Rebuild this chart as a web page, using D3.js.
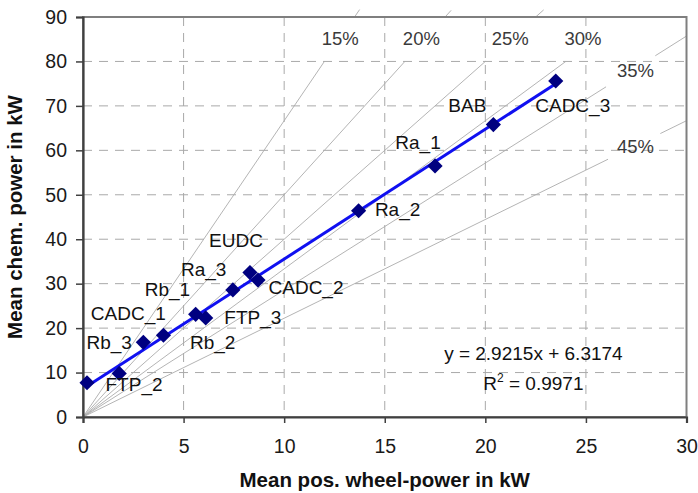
<!DOCTYPE html>
<html>
<head>
<meta charset="utf-8">
<script src="https://cdn.jsdelivr.net/npm/d3@7"></script>
<style>
  html, body { margin: 0; padding: 0; background: #fff; }
  svg text { font-family: Arial, "Liberation Sans", sans-serif; }
</style>
</head>
<body>
<svg id="chart" width="698" height="493"></svg>
<script>
// ---------------- data ----------------
const pointNames = ["FTP_2", "Rb_3", "CADC_1", "Rb_1", "Ra_3", "Rb_2", "FTP_3", "EUDC", "CADC_2", "Ra_2", "Ra_1", "BAB", "CADC_3"];
const wheelPower = [0.2, 1.8, 3.0, 4.0, 5.6, 6.1, 7.45, 8.3, 8.7, 13.7, 17.5, 20.4, 23.5];
const chemPower  = [7.7, 9.8, 16.8, 18.4, 23.1, 22.3, 28.6, 32.5, 30.8, 46.4, 56.5, 65.8, 75.6];

const trendSlope = 2.9215;
const trendIntercept = 6.3174;
const equationText = "y = 2.9215x + 6.3174";
const r2Value = "0.9971";

const efficiencies = [0.15, 0.20, 0.25, 0.30, 0.35, 0.45];
const efficiencyLabels = ["15%", "20%", "25%", "30%", "35%", "45%"];
// x-extents (kW wheel power) of the visible pieces of each efficiency line
const efficiencySegments = [
  [[0, 12], [13.5, 13.75]],
  [[0, 16], [18.0, 18.3]],
  [[0, 20], [22.5, 22.9]],
  [[0, 24]],
  [[0, 26], [28.45, 30]],
  [[0, 26.1], [28.7, 30]]
];

const xTicks = [0, 5, 10, 15, 20, 25, 30];
const yTicks = [0, 10, 20, 30, 40, 50, 60, 70, 80, 90];
const xTitle = "Mean pos. wheel-power in kW";
const yTitle = "Mean chem. power in kW";

// ---------------- layout ----------------
const svg = d3.select("#chart");
const plot = { left: 83, right: 686.5, top: 17, bottom: 417 };
const x = d3.scaleLinear().domain([0, 30]).range([plot.left, plot.right]);
const y = d3.scaleLinear().domain([0, 90]).range([plot.bottom, plot.top]);

// label placement (text anchor point) for efficiency labels, in data units
const effLabelAt = [[12.79, 83.7], [16.82, 83.7], [21.24, 83.7], [24.85, 83.7], [27.46, 76.5], [27.46, 59.4]];
// data label offsets in pixels [dx (centre), dy (baseline)] relative to marker
const labelOffsets = [[47, 8], [-10, -24], [-15, -22], [4, -39], [8, -38], [7, 31], [20, 34], [-14, -26], [48, 14], [39, 5], [-17, -17], [-26, -13], [17, 31]];
// equation anchor (data units)
const eqAt = [22.39, 12.8];
const r2At = [22.39, 6.1];

// ---------------- gridlines ----------------
const grid = svg.append("g");
grid.selectAll("line.v").data(xTicks.filter(t => t > 0 && t < 30)).join("line")
  .attr("x1", d => x(d)).attr("x2", d => x(d))
  .attr("y1", plot.top).attr("y2", plot.bottom)
  .attr("stroke", "#a9a9a9").attr("stroke-width", 1).attr("stroke-dasharray", "9,7");
grid.selectAll("line.h").data(yTicks.filter(t => t > 0 && t < 90)).join("line")
  .attr("x1", plot.left).attr("x2", plot.right)
  .attr("y1", d => y(d)).attr("y2", d => y(d))
  .attr("stroke", "#a9a9a9").attr("stroke-width", 1).attr("stroke-dasharray", "9,7");

// ---------------- efficiency lines ----------------
const effG = svg.append("g");
efficiencies.forEach((e, i) => {
  efficiencySegments[i].forEach(seg => {
    effG.append("line")
      .attr("x1", x(seg[0])).attr("y1", y(seg[0] / e))
      .attr("x2", x(seg[1])).attr("y2", y(seg[1] / e))
      .attr("stroke", "#ababab").attr("stroke-width", 0.9);
  });
  effG.append("text")
    .attr("x", x(effLabelAt[i][0])).attr("y", y(effLabelAt[i][1]))
    .attr("text-anchor", "middle")
    .attr("font-size", 18.5).attr("fill", "#3a3a3a")
    .text(efficiencyLabels[i]);
});

// ---------------- frame & axes ----------------
svg.append("rect")
  .attr("x", plot.left).attr("y", plot.top)
  .attr("width", plot.right - plot.left).attr("height", plot.bottom - plot.top)
  .attr("fill", "none").attr("stroke", "#7f7f7f").attr("stroke-width", 2);

const yAxis = svg.append("g").attr("transform", `translate(${plot.left},0)`)
  .call(d3.axisLeft(y).tickValues(yTicks).tickSize(7).tickPadding(9));
const xAxis = svg.append("g").attr("transform", `translate(0,${plot.bottom})`)
  .call(d3.axisBottom(x).tickValues(xTicks).tickSize(6).tickPadding(16.5));
[xAxis, yAxis].forEach(g => {
  g.select(".domain").attr("stroke", "#404040").attr("stroke-width", 2.2);
  g.selectAll(".tick line").attr("stroke", "#404040").attr("stroke-width", 1.5);
  g.selectAll(".tick text").attr("font-size", 19.5).attr("fill", "#1a1a1a")
    .attr("font-family", "Arial, 'Liberation Sans', sans-serif");
});

// ---------------- trend line ----------------
const xMin = d3.min(wheelPower), xMax = d3.max(wheelPower);
svg.append("line")
  .attr("x1", x(xMin)).attr("y1", y(trendSlope * xMin + trendIntercept))
  .attr("x2", x(xMax)).attr("y2", y(trendSlope * xMax + trendIntercept))
  .attr("stroke", "#1010f0").attr("stroke-width", 3);

// ---------------- markers ----------------
const pts = pointNames.map((n, i) => ({ name: n, wx: wheelPower[i], cy: chemPower[i], off: labelOffsets[i] }));
svg.append("g").selectAll("path").data(pts).join("path")
  .attr("d", d3.symbol(d3.symbolSquare, 115))
  .attr("transform", d => `translate(${x(d.wx)},${y(d.cy)}) rotate(45)`)
  .attr("fill", "#000080");

svg.append("g").selectAll("text").data(pts).join("text")
  .attr("x", d => x(d.wx) + d.off[0])
  .attr("y", d => y(d.cy) + d.off[1])
  .attr("text-anchor", "middle")
  .attr("font-size", 19).attr("fill", "#111")
  .text(d => d.name);

// ---------------- equation ----------------
svg.append("text")
  .attr("x", x(eqAt[0])).attr("y", y(eqAt[1]))
  .attr("text-anchor", "middle").attr("font-size", 19).attr("fill", "#111")
  .text(equationText);
const r2 = svg.append("text")
  .attr("x", x(r2At[0])).attr("y", y(r2At[1]))
  .attr("text-anchor", "middle").attr("font-size", 19).attr("fill", "#111");
r2.append("tspan").text("R");
r2.append("tspan").attr("font-size", 12).attr("dy", -8).text("2");
r2.append("tspan").attr("dy", 8).text(" = " + r2Value);

// ---------------- titles ----------------
svg.append("text")
  .attr("x", (plot.left + plot.right) / 2).attr("y", 487)
  .attr("text-anchor", "middle").attr("font-size", 20.5).attr("font-weight", "bold").attr("fill", "#111")
  .text(xTitle);
svg.append("text")
  .attr("transform", `translate(21.5,${(plot.top + plot.bottom) / 2}) rotate(-90)`)
  .attr("text-anchor", "middle").attr("font-size", 20.5).attr("font-weight", "bold").attr("fill", "#111")
  .text(yTitle);
</script>
</body>
</html>
